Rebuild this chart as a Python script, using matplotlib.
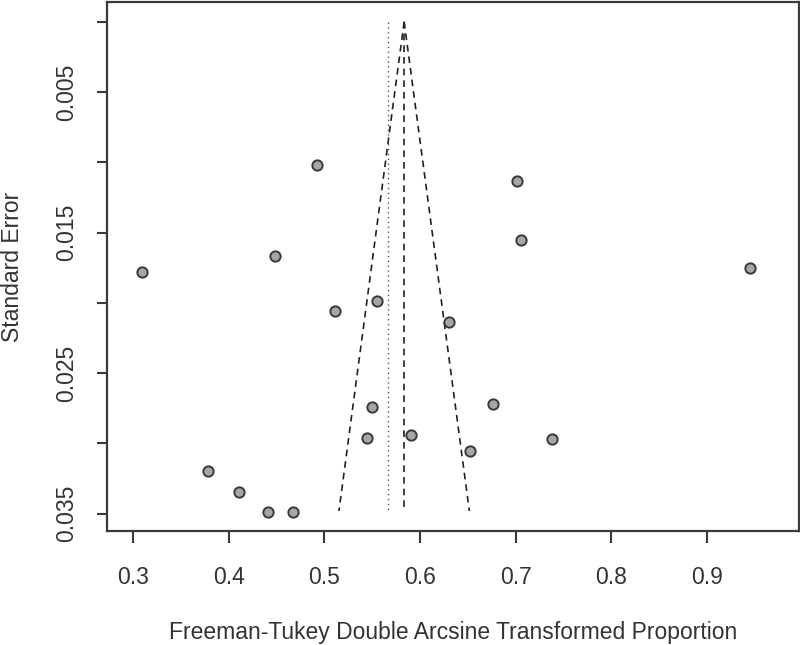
import numpy as np
import matplotlib
matplotlib.use("Agg")
import matplotlib.pyplot as plt

plt.rcParams['font.family'] = ['Liberation Sans', 'DejaVu Sans']

# study estimates (Freeman-Tukey transformed) and their standard errors
effect = [0.4924, 0.7013, 0.7061, 0.4478, 0.3094, 0.9453, 0.5552, 0.5109,
          0.6308, 0.5496, 0.6768, 0.5447, 0.5907, 0.7385, 0.6521, 0.3781,
          0.4105, 0.4415, 0.4676]
std_err = [0.01017, 0.01130, 0.01550, 0.01664, 0.01777, 0.01753, 0.01986,
           0.02059, 0.02133, 0.02739, 0.02718, 0.02960, 0.02938, 0.02969,
           0.03052, 0.03199, 0.03346, 0.03488, 0.03488]

pooled_fixed = 0.5834   # dashed line / funnel centre
pooled_random = 0.566   # dotted line
se_max = 0.0348

x_ticks = [0.3, 0.4, 0.5, 0.6, 0.7, 0.8, 0.9]
y_ticks = [0.0, 0.005, 0.010, 0.015, 0.020, 0.025, 0.030, 0.035]
y_tick_labels = ['', '0.005', '', '0.015', '', '0.025', '', '0.035']

fig = plt.figure(figsize=(8.0, 6.45), dpi=100)
ax = fig.add_axes([0.134, 0.176, 0.865, 0.821])

edge = '#3a3a3a'
txt = '#333333'

# funnel
se_line = np.array([0.0, se_max])
ax.plot(pooled_fixed - 1.96 * se_line, se_line, color='#222222', lw=1.2,
        linestyle=(0, (4, 3)))
ax.plot(pooled_fixed + 1.96 * se_line, se_line, color='#222222', lw=1.2,
        linestyle=(0, (4, 3)))
ax.plot([pooled_fixed, pooled_fixed], se_line, color='#222222', lw=1.2,
        linestyle=(0, (4, 3)))
ax.plot([pooled_random, pooled_random], se_line, color='#555555', lw=1.0,
        linestyle=(0, (1, 2.5)))

ax.scatter(effect, std_err, s=55, facecolor='#a6a6a6', edgecolor=edge,
           linewidth=1.4, zorder=3)

ax.set_xlim(0.2728, 0.9966)
ax.set_ylim(0.03626, -0.00141)

ax.set_xticks(x_ticks)
ax.set_xticklabels([f'{v:.1f}' for v in x_ticks])
ax.set_yticks(y_ticks)
ax.set_yticklabels(y_tick_labels, rotation=90, va='center')

ax.tick_params(axis='x', length=8.6, width=1.5, color=edge, labelsize=16.5,
               labelcolor=txt, pad=16)
ax.tick_params(axis='y', length=7.2, width=1.5, color=edge, labelsize=16.5,
               labelcolor=txt, pad=13.5)

for side in ax.spines.values():
    side.set_color(edge)
    side.set_linewidth(1.6)

ax.set_xlabel('Freeman-Tukey Double Arcsine Transformed Proportion',
              fontsize=16.5, color=txt, va='center')
ax.set_ylabel('Standard Error', fontsize=16.5, color=txt, va='center')
ax.xaxis.set_label_coords(0.5, -0.191)
ax.yaxis.set_label_coords(-0.137, 0.5)

fig.savefig('out.png', dpi=100)
